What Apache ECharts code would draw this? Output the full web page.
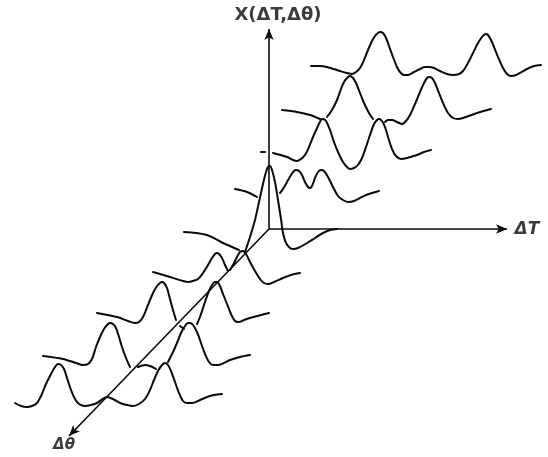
<!DOCTYPE html>
<html><head><meta charset="utf-8">
<style>html,body{margin:0;padding:0;background:#fff}#c{width:548px;height:457px}</style>
<script src="https://cdn.jsdelivr.net/npm/echarts@6/dist/echarts.min.js"></script>
</head><body><div id="c"></div>
<script>
// Profiles, back to front: [deltaTau position, height position]
const profile1 = [[311,66],[319,66],[327,67],[340,71],[347,73],[352,74],[356,72],[360,68],[364,60],[368,50],[372,41],[375,36],[378,33],[380,32],[383,33],[386,38],[389,46],[393,57],[397,67],[400,72],[404,75],[408,75],[414,72],[420,69],[425,67],[429,67],[434,68],[440,71],[447,74],[453,75],[459,74],[463,71],[468,63],[473,53],[478,43],[482,37],[484,35],[486,34],[488,35],[491,40],[494,47],[498,57],[503,68],[507,74],[511,76],[516,75],[527,69],[534,66],[541,65]];
const profile2a = [[282,110],[297,112],[310,115],[320,119]];
const profile2b = [[327,117],[332,110],[337,100],[341,89],[344,82],[347,78],[350,76],[353,78],[356,83],[360,93],[364,103],[369,113],[373,119]];
const profile2c = [[385,122],[388,120],[392,120],[397,122],[402,124],[406,121],[410,115],[415,104],[420,92],[424,83],[427,78],[429,77],[432,78],[435,83],[439,93],[443,103],[448,113],[453,118],[458,119],[463,118],[477,113],[491,109]];
const profile3dash = [[261,152],[265,152]];
const profile3 = [[273,153],[287,157],[293,160],[297,161],[301,159],[305,155],[309,147],[313,137],[318,126],[321,120],[323,119],[326,121],[330,130],[334,142],[338,152],[343,162],[347,167],[350,169],[354,168],[358,165],[362,158],[366,147],[370,135],[374,124],[377,120],[379,119],[382,121],[385,127],[388,137],[392,149],[396,156],[401,159],[407,158],[417,155],[424,152],[431,150]];
const profile4a = [[235,189],[247,192],[257,197]];
const profile4b = [[280,193],[283,189],[287,182],[291,175],[294,171],[296,170],[299,171],[302,175],[305,182],[308,187],[310,188],[312,186],[315,178],[318,172],[321,170],[324,171],[328,177],[333,187],[338,196],[343,200],[348,202],[354,201],[366,195],[379,191]];
const profile5a = [[184,232],[207,235],[223,243],[239,250]];
const profile5b = [[245,252],[250,237],[255,220],[259,202],[263,184],[266,172],[268,167],[269,166],[270,166],[272,170],[275,182],[278,200],[281,219],[283,233],[286,243],[290,248],[293,249],[298,248],[307,243],[315,238],[323,233],[330,230],[337,229]];
const profile6a = [[153,272],[170,277],[183,281],[188,282],[193,281],[198,279],[203,273],[208,265],[212,258],[215,254],[217,253],[219,254],[222,258],[225,265],[228,271]];
const profile6b = [[230,270],[233,265],[237,257],[240,252],[243,251],[246,254],[250,262],[255,271],[260,279],[264,283],[268,284],[274,282],[283,278],[291,275],[300,273]];
const profile7a = [[97,313],[117,317],[128,321],[135,323],[139,322],[143,317],[148,305],[153,293],[157,286],[160,283],[162,282],[164,283],[167,288],[170,299],[173,310],[176,320]];
const profile7b = [[180,326],[184,329]];
const profile7c = [[197,324],[200,317],[203,308],[206,299],[209,291],[212,285],[215,282],[217,282],[220,286],[223,294],[227,304],[231,314],[235,321],[239,322],[244,320],[250,318],[269,313]];
const profile8a = [[43,356],[63,359],[76,363],[83,365],[88,364],[92,359],[96,347],[100,337],[104,329],[108,324],[110,323],[113,324],[116,328],[119,337],[122,347],[126,358],[130,367]];
const profile8b = [[138,367],[145,365],[150,366],[156,369]];
const profile8c = [[168,362],[173,352],[177,343],[181,333],[185,326],[188,323],[190,323],[193,325],[197,332],[201,343],[205,354],[209,362],[213,365],[218,365],[230,360],[240,357],[250,355]];
const profile9 = [[15,403],[21,406],[27,407],[32,406],[37,403],[41,396],[46,384],[51,374],[55,367],[58,364],[61,365],[64,369],[67,378],[71,390],[75,399],[79,404],[85,406],[91,405],[97,403],[107,397],[113,399],[120,403],[127,405],[133,406],[139,404],[145,399],[150,390],[154,380],[158,371],[162,365],[165,363],[168,365],[171,371],[175,382],[179,393],[183,401],[187,403],[192,403],[200,400],[207,397],[214,395],[222,394]];

const profiles = [profile1,profile2a,profile2b,profile2c,profile3dash,profile3,profile4a,profile4b,profile5a,profile5b,profile6a,profile6b,profile7a,profile7b,profile7c,profile8a,profile8b,profile8c,profile9];

const origin = [269,229];
const axisEnds = [[269,29],[507,229],[69,436]];
const axisLabels = [
  {text:'X(ΔT,Δθ)', at:[278,15], size:18, style:'normal'},
  {text:'ΔT', at:[527,230], size:17, style:'italic'},
  {text:'Δθ', at:[64,445], size:15, style:'italic'}
];
const ink = '#0a0a0a';

const series = profiles.map(d => ({
  type:'line', data:d, smooth:0.3, smoothMonotone:'none', symbol:'none', silent:true,
  lineStyle:{color:ink,width:2,cap:'round',join:'round'}
}));
series.push({
  type:'line', data:[], symbol:'none', silent:true,
  markLine:{
    silent:true, animation:false, precision:0,
    symbol:['none','arrow'], symbolSize:[7,11],
    label:{show:false},
    lineStyle:{color:ink,width:1.6,type:'solid'},
    data:axisEnds.map(e => [{coord:origin},{coord:e}])
  }
});
series.push({
  type:'scatter', silent:true, symbolSize:0,
  data:axisLabels.map(l => ({
    value:l.at,
    label:{show:true,position:'inside',formatter:l.text,
      fontFamily:'DejaVu Sans',fontWeight:'bold',fontStyle:l.style,fontSize:l.size,color:ink}
  }))
});

const chart = echarts.init(document.getElementById('c'),null,{renderer:'canvas'});
chart.setOption({
  animation:false,
  backgroundColor:'#fff',
  grid:{left:0,right:0,top:0,bottom:0},
  xAxis:{type:'value',min:0,max:548,show:false},
  yAxis:{type:'value',min:0,max:457,inverse:true,show:false},
  series
});
</script></body></html>
